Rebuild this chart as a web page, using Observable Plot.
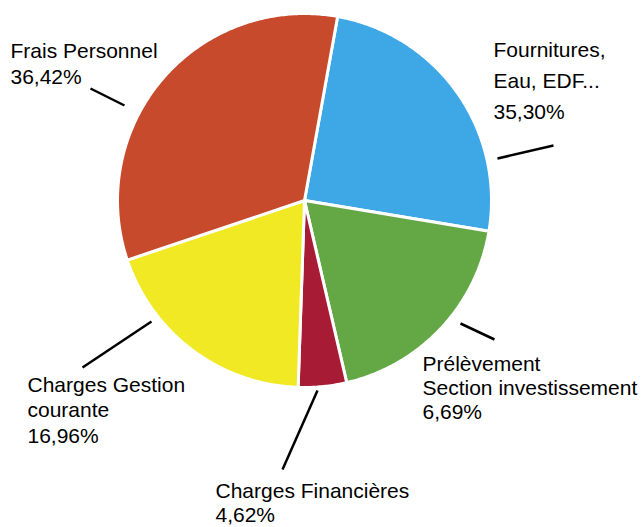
<!DOCTYPE html>
<html><head><meta charset="utf-8">
<script src="https://cdn.jsdelivr.net/npm/d3@7"></script>
<script src="https://cdn.jsdelivr.net/npm/@observablehq/plot@0.6"></script>
<style>html,body{margin:0;padding:0;background:#fff} svg{display:block}</style>
</head><body><div id="chart"></div>
<script>
// ---- data ----
const categories = ["Fournitures, Eau, EDF...", "Prélèvement Section investissement", "Charges Financières", "Charges Gestion courante", "Frais Personnel"];
const labelLines = [["Fournitures,", "Eau, EDF..."], ["Prélèvement", "Section investissement"], ["Charges Financières"], ["Charges Gestion", "courante"], ["Frais Personnel"]];
const percentLabels = ["35,30%", "6,69%", "4,62%", "16,96%", "36,42%"];
// slice sizes as drawn in the picture
const sliceShares = [24.8, 18.75, 4.17, 19.3, 33.0];
const sliceColors = ["#3ea7e6", "#63a845", "#a71b34", "#f0e923", "#c84a2c"];

// ---- layout ----
const W = 643, H = 527, cx = 304, cy = 200, R = 187, startDeg = 10.2;
const labelLayout = [
  {x: 493, y: 56, gap: 31, from: [497, 158], to: [553, 145]},
  {x: 422, y: 370, gap: 24, from: [460, 323], to: [494, 339]},
  {x: 215, y: 497, gap: 24.5, from: [317, 390], to: [282, 469]},
  {x: 27, y: 391, gap: 25.5, from: [151, 321], to: [82, 367]},
  {x: 10, y: 57, gap: 26, from: [90, 88], to: [124, 105]}
];

const start = startDeg * Math.PI / 180;
const arcs = d3.pie().sort(null).startAngle(start).endAngle(start + 2 * Math.PI)(sliceShares);

const polyPts = [];
arcs.forEach((a, i) => {
  const n = Math.max(4, Math.ceil((a.endAngle - a.startAngle) / 0.01));
  polyPts.push({name: categories[i], x: cx, y: cy});
  for (let k = 0; k <= n; k++) {
    const t = a.startAngle + (a.endAngle - a.startAngle) * k / n;
    polyPts.push({name: categories[i], x: cx + R * Math.sin(t), y: cy - R * Math.cos(t)});
  }
  polyPts.push({name: categories[i], x: cx, y: cy});
});

const textRows = [];
categories.forEach((c, i) => {
  const L = labelLayout[i];
  [...labelLines[i], percentLabels[i]].forEach((t, j) => {
    textRows.push({text: t, x: L.x, y: L.y + j * L.gap});
  });
});
const leaders = labelLayout.map((L, i) => ({name: categories[i], x1: L.from[0], y1: L.from[1], x2: L.to[0], y2: L.to[1]}));

const chart = Plot.plot({
  width: W, height: H,
  margin: 0,
  x: {type: "identity", axis: null},
  y: {type: "identity", axis: null},
  color: {domain: categories, range: sliceColors},
  style: {fontFamily: "'Liberation Sans', Arial, sans-serif", background: "#fff"},
  marks: [
    Plot.line(polyPts, {x: "x", y: "y", z: "name", fill: "name", stroke: "#fff", strokeWidth: 3, strokeLinejoin: "round", curve: "linear"}),
    Plot.link(leaders, {x1: "x1", y1: "y1", x2: "x2", y2: "y2", stroke: "#000", strokeWidth: 2.5}),
    Plot.text(textRows, {x: "x", y: "y", text: "text", textAnchor: "start", lineAnchor: "bottom", fontSize: 21, fill: "#000"})
  ]
});
document.getElementById("chart").append(chart);
</script>
</body></html>
